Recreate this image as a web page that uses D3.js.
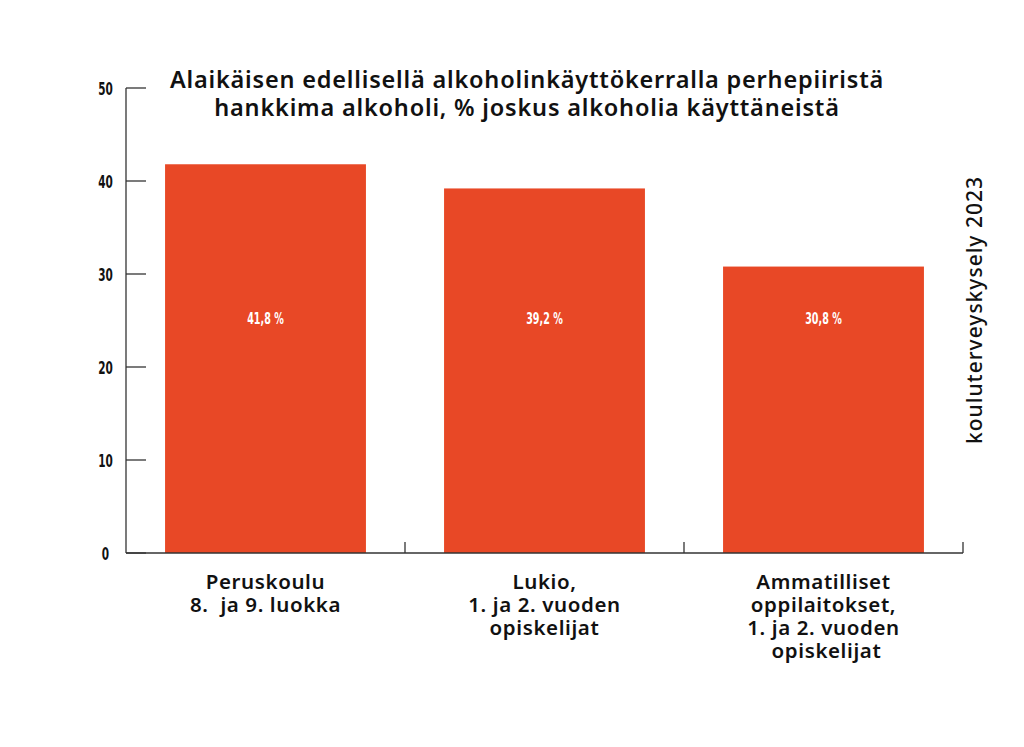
<!DOCTYPE html>
<html><head><meta charset="utf-8">
<script src="https://cdn.jsdelivr.net/npm/d3@7"></script>
<style>body{margin:0;background:#fff}</style>
</head><body>
<svg id="c" width="1024" height="747"></svg>
<script>
const categories = [
  ["Peruskoulu", "8.  ja 9. luokka"],
  ["Lukio,", "1. ja 2. vuoden", "opiskelijat"],
  ["Ammatilliset", "oppilaitokset,", "1. ja 2. vuoden", " opiskelijat"]
];
const values = [41.8, 39.2, 30.8];
const valueLabels = ["41,8 %", "39,2 %", "30,8 %"];
const yTicks = [0, 10, 20, 30, 40, 50];
const titleLines = ["Alaikäisen edellisellä alkoholinkäyttökerralla perhepiiristä", "hankkima alkoholi, % joskus alkoholia käyttäneistä"];
const sourceText = "kouluterveyskysely 2023";

const svg = d3.select("#c");
const x0 = 126, x1 = 963, yTop = 88, yBot = 553;
const x = d3.scaleBand().domain(d3.range(values.length)).range([x0, x1]).paddingInner(0.28).paddingOuter(0.14);
const y = d3.scaleLinear().domain([0, 50]).range([yBot, yTop]);
const axisColor = "#333";
const condensed = "'DejaVu Sans',sans-serif";

// bars
svg.selectAll("rect.bar").data(values).join("rect")
  .attr("x", (d,i) => x(i)).attr("width", x.bandwidth())
  .attr("y", d => y(d)).attr("height", d => y(0) - y(d))
  .attr("fill", "#E84826");

// value labels (condensed via horizontal scale)
svg.selectAll("text.val").data(values).join("text")
  .attr("transform", (d,i) => `translate(${x(i) + x.bandwidth()/2},323.5) scale(0.6,1)`)
  .attr("text-anchor", "middle").attr("fill", "#fff")
  .style("font-family", condensed).style("font-weight", "bold").style("font-size", "16px")
  .text((d,i) => valueLabels[i]);

// y axis
const yAxis = svg.append("g");
yAxis.append("line").attr("x1", x0).attr("x2", x0).attr("y1", yTop).attr("y2", yBot).attr("stroke", axisColor).attr("stroke-width", 1.3);
yAxis.selectAll("line.t").data(yTicks).join("line")
  .attr("x1", x0).attr("x2", x0 + 20).attr("y1", d => y(d)).attr("y2", d => y(d))
  .attr("stroke", axisColor).attr("stroke-width", 1.3);
yAxis.selectAll("text").data(yTicks).join("text")
  .attr("transform", d => `translate(105.5,${y(d) + 7}) scale(0.6,1)`).attr("text-anchor", "middle")
  .style("font-family", condensed).style("font-weight", "bold").style("font-size", "17.5px").attr("fill", "#111")
  .text(d => d);

// x axis
const bandEdges = d3.range(values.length).map(i => x(i) - x.step()*x.paddingInner()/2 + x.step());
svg.append("line").attr("x1", x0).attr("x2", x1).attr("y1", yBot).attr("y2", yBot).attr("stroke", axisColor).attr("stroke-width", 1.3);
svg.selectAll("line.xt").data(bandEdges).join("line")
  .attr("x1", d => d).attr("x2", d => d).attr("y1", yBot - 11).attr("y2", yBot).attr("stroke", axisColor).attr("stroke-width", 1.3);

// category labels
categories.forEach((lines, i) => {
  const t = svg.append("text").attr("text-anchor", "middle")
    .style("font-family", "'Noto Sans',sans-serif").style("font-weight", "600").style("font-size", "20.5px")
    .style("letter-spacing", "0.6px").attr("fill", "#111")
    .attr("xml:space", "preserve");
  lines.forEach((l, j) => t.append("tspan").attr("x", x(i) + x.bandwidth()/2).attr("y", 589 + j*23).text(l));
});

// title
const tt = svg.append("text").attr("text-anchor", "middle")
  .style("font-family", "'Noto Sans',sans-serif").style("font-weight", "600").style("font-size", "23.5px")
  .style("letter-spacing", "0.8px").attr("fill", "#111");
titleLines.forEach((l, j) => tt.append("tspan").attr("x", 527).attr("y", 88 + j*28).text(l));

// source rotated
svg.append("text").attr("transform", "translate(982,310) rotate(-90)").attr("text-anchor", "middle")
  .style("font-family", "'Noto Sans',sans-serif").style("font-weight", "500").style("font-size", "21px")
  .style("letter-spacing", "1px").attr("fill", "#111")
  .text(sourceText);
</script>
</body></html>
